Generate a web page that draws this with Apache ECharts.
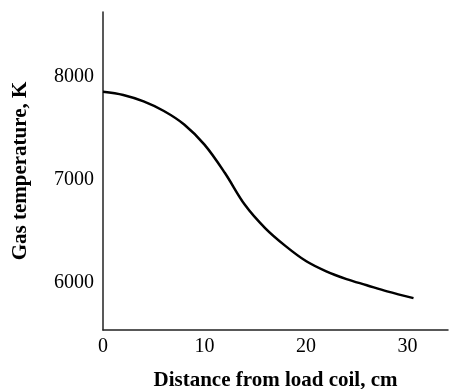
<!DOCTYPE html>
<html>
<head>
<meta charset="utf-8">
<script src="https://cdn.jsdelivr.net/npm/echarts@6/dist/echarts.min.js"></script>
<style>
  html, body { margin: 0; padding: 0; background: #fff; }
  #chart { width: 449px; height: 389px; }
</style>
</head>
<body>
<div id="chart"></div>
<script>
// Axial gas temperature profile downstream of the load coil
const distanceCm = [0, 2, 4, 6, 8, 10, 12, 14, 16, 18, 20, 22, 24, 26, 28, 30.6];
const gasTempK   = [7855, 7824, 7761, 7668, 7537, 7341, 7068, 6754, 6528, 6355, 6210, 6110, 6035, 5975, 5915, 5850];
const xTicks = [0, 10, 20, 30];
const yTicks = [6000, 7000, 8000];

const font = '"Liberation Serif", "Times New Roman", serif';
const chart = echarts.init(document.getElementById('chart'), null, { renderer: 'canvas' });

chart.setOption({
  animation: false,
  backgroundColor: '#ffffff',
  grid: { left: 103, right: 1, top: 12, bottom: 59, outerBoundsMode: 'none', containLabel: false },
  xAxis: {
    type: 'value',
    min: 0,
    max: 34,
    name: 'Distance from load coil, cm',
    nameLocation: 'middle',
    nameGap: 40,
    nameTextStyle: { fontFamily: font, fontWeight: 'bold', fontSize: 21, color: '#000' },
    axisLine: { show: true, lineStyle: { color: '#222', width: 1.5 } },
    axisTick: { show: false },
    splitLine: { show: false },
    axisLabel: {
      customValues: xTicks,
      formatter: v => String(v),
      margin: 7,
      fontFamily: font, fontSize: 20, color: '#000'
    }
  },
  yAxis: {
    type: 'value',
    min: 5540,
    max: 8630,
    name: 'Gas temperature, K',
    nameLocation: 'middle',
    nameGap: 72,
    nameRotate: 90,
    nameTextStyle: { fontFamily: font, fontWeight: 'bold', fontSize: 21, color: '#000' },
    axisLine: { show: true, lineStyle: { color: '#222', width: 1.5 } },
    axisTick: { show: false },
    splitLine: { show: false },
    axisLabel: {
      customValues: yTicks,
      formatter: v => String(v),
      margin: 9,
      fontFamily: font, fontSize: 20, color: '#000'
    }
  },
  series: [{
    type: 'line',
    data: distanceCm.map((d, i) => [d, gasTempK[i]]),
    smooth: 0.35,
    showSymbol: false,
    lineStyle: { color: '#000', width: 2.5 }
  }]
});
</script>
</body>
</html>
